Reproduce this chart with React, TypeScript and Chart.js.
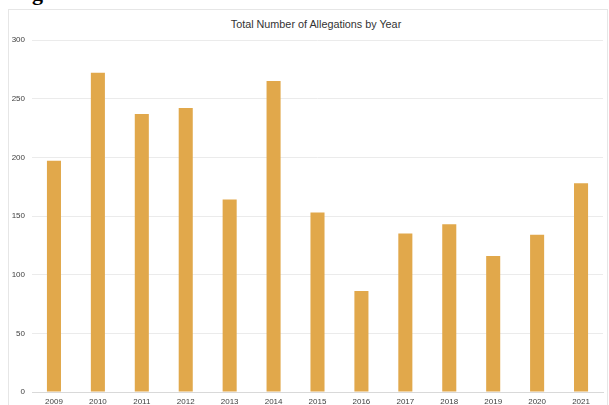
import React, { useEffect, useRef } from "react";
import { Chart, registerables } from "chart.js";

Chart.register(...registerables);

const years = ["2009", "2010", "2011", "2012", "2013", "2014", "2015", "2016", "2017", "2018", "2019", "2020", "2021"];
const allegations = [197, 272, 237, 242, 164, 265, 153, 86, 135, 143, 116, 134, 178];
const yTicks = [0, 50, 100, 150, 200, 250, 300];

export default function App() {
  const ref = useRef<HTMLCanvasElement | null>(null);
  useEffect(() => {
    if (!ref.current) return;
    const chart = new Chart(ref.current, {
      type: "bar",
      data: {
        labels: years,
        datasets: [
          {
            label: "Allegations",
            data: allegations,
            backgroundColor: "#E1A84B",
            borderWidth: 0,
            categoryPercentage: 1,
            barPercentage: 0.32,
          },
        ],
      },
      options: {
        animation: false,
        responsive: false,
        maintainAspectRatio: false,
        layout: { padding: { top: 40, right: 6, left: 0, bottom: 0 } },
        plugins: { legend: { display: false }, title: { display: false }, tooltip: { enabled: false } },
        scales: {
          x: {
            grid: { display: false, drawTicks: false },
            border: { display: true, color: "#d9d9d9", width: 1 },
            ticks: { padding: 5, color: "#404040", font: { family: "Liberation Sans", size: 8 }, maxRotation: 0, autoSkip: false },
            afterFit: (s: any) => { s.height = 13; },
          },
          y: {
            min: 0,
            max: 300,
            afterBuildTicks: (s: any) => { s.ticks = yTicks.map((v) => ({ value: v })); },
            grid: { color: "#ebebeb", drawTicks: false },
            border: { display: false },
            ticks: { padding: 7, color: "#404040", font: { family: "Liberation Sans", size: 8 } },
            afterFit: (s: any) => { s.width = 32; },
          },
        },
      },
    });
    return () => chart.destroy();
  }, []);
  return (
    <div style={{ position: "fixed", left: 0, top: 0, width: 609, height: 405, background: "#fff", overflow: "hidden" }}>
      <div style={{ position: "absolute", left: 32, top: -18, fontFamily: "Liberation Serif", fontWeight: "bold", fontSize: 22, lineHeight: "22px", color: "#000" }}>g</div>
      <div style={{ position: "absolute", left: 8, top: 9, width: 600, height: 410, border: "1px solid #e6e6e6", boxSizing: "border-box" }} />
      <div style={{ position: "absolute", left: 0, top: 18, width: 632, textAlign: "center", fontFamily: "Liberation Sans", fontSize: 10.8, color: "#333" }}>Total Number of Allegations by Year</div>
      <canvas ref={ref} width={609} height={405} style={{ position: "absolute", left: 0, top: 0 }} />
    </div>
  );
}
